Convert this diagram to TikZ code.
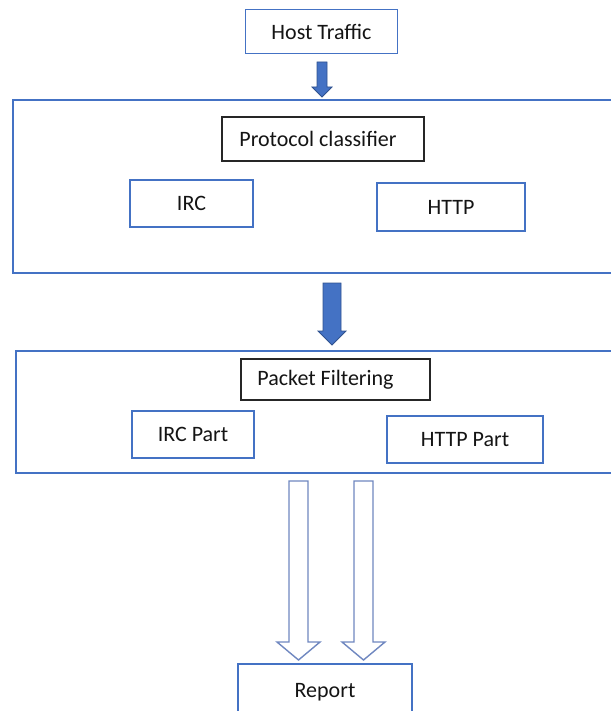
\documentclass[tikz,border=0pt]{standalone}
\usepackage{fontspec}
\setmainfont{Carlito}
\definecolor{boxblue}{HTML}{4472C4}
\definecolor{arrowfill}{HTML}{4472C4}
\definecolor{arrowedge}{HTML}{2F528F}
\definecolor{hollowedge}{HTML}{6F87C0}
\definecolor{labelgray}{HTML}{141414}

\begin{document}
\begin{tikzpicture}[x=1pt, y=-1pt,
  font=\fontsize{22}{26}\selectfont, text=labelgray,
  bluebox/.style={draw=boxblue, line width=1.2pt, inner sep=0pt},
  blackbox/.style={draw=black!85, line width=1.4pt, inner sep=0pt},
  framebox/.style={draw=boxblue, line width=1.3pt, inner sep=0pt},
  solidarrow/.style={fill=arrowfill, draw=arrowedge, line width=0.8pt, line join=miter},
  hollowarrow/.style={fill=white, draw=hollowedge, line width=1.4pt, line join=miter}]
\useasboundingbox (0,0) rectangle (610,711);

% input
\node[bluebox, minimum width=152pt, minimum height=44pt] (host) at (321.5,31.5) {Host Traffic};

% stage 1: protocol classification
\node[framebox, minimum width=627pt, minimum height=173pt] (stageone) at (326.5,186.5) {};
\node[blackbox, minimum width=202pt, minimum height=44pt] (classifier) at (323,139) {\hspace*{-10pt}Protocol classifier};
\node[bluebox, minimum width=123pt, minimum height=47pt] (irc) at (191.5,203.5) {IRC};
\node[bluebox, minimum width=148pt, minimum height=48pt] (http) at (451,207) {HTTP};

% stage 2: packet filtering
\node[framebox, minimum width=624pt, minimum height=122pt] (stagetwo) at (328,412) {};
\node[blackbox, minimum width=189pt, minimum height=41pt] (filter) at (335.5,379.5) {\hspace*{-20pt}Packet Filtering};
\node[bluebox, minimum width=122pt, minimum height=47pt] (ircpart) at (193,434.5) {IRC Part};
\node[bluebox, minimum width=156pt, minimum height=47pt] (httppart) at (465,439.5) {HTTP Part};

% output
\node[bluebox, minimum width=174pt, minimum height=56pt] (report) at (325,692) {\raisebox{3pt}{Report}};

% block arrow: host traffic -> stage 1
\draw[solidarrow] (317,62) -- (327,62) -- (327,87) -- (332,87) -- (322,97)
  -- (312,87) -- (317,87) -- cycle;

% block arrow: stage 1 -> stage 2
\draw[solidarrow] (323,283) -- (341,283) -- (341,331) -- (346,331) -- (332,345)
  -- (318,331) -- (323,331) -- cycle;

% hollow arrows: stage 2 -> report
\draw[hollowarrow] (289,481) -- (308,481) -- (308,642) -- (320,642) -- (298.5,660)
  -- (277,642) -- (289,642) -- cycle;
\draw[hollowarrow] (354,481) -- (373,481) -- (373,642) -- (385,642) -- (363.5,660)
  -- (342,642) -- (354,642) -- cycle;
\end{tikzpicture}
\end{document}
